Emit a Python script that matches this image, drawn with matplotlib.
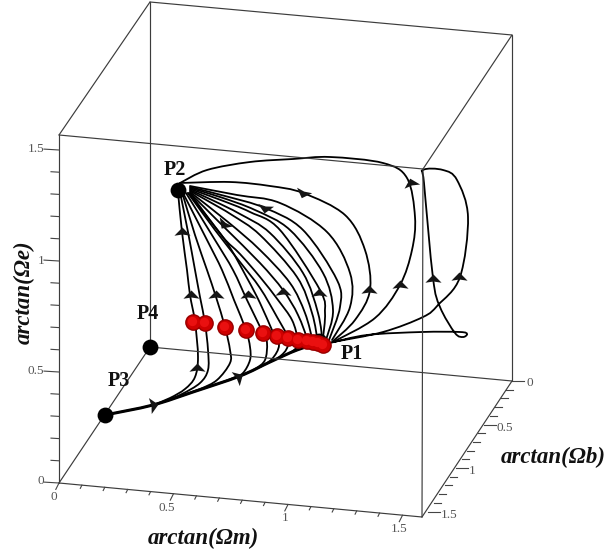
import numpy as np
import matplotlib
matplotlib.use("Agg")
import matplotlib.pyplot as plt
from matplotlib.path import Path
from matplotlib.patches import PathPatch
from matplotlib.markers import MarkerStyle
from matplotlib.transforms import Affine2D

P1 = (319, 341)
P2 = (178, 190)
P3 = (105, 415)
P4 = (150, 347)
fixed_points = [P2, P3, P4, P1]
fixed_names = ["P2", "P3", "P4", "P1"]
fixed_name_pos = [(175, 170), (119, 381), (148, 314), (352, 354)]

red_x = [193, 205, 225, 246, 263, 277, 288, 298, 307, 313, 318, 323]
red_y = [322, 323, 327, 330, 333, 336, 338, 340, 341, 342, 343, 345]

main_line = [(105, 415), (153, 405), (193, 392), (240, 376), (270, 362), (297, 350), (320, 343)]

traj_1 = [(153, 405), (170, 398), (185, 389), (195, 377), (198, 357), (195, 322), (190, 295), (187, 270), (182, 232), (178, 192)]
traj_2 = [(165, 401), (182, 394), (200, 383), (208, 370), (208, 350), (205, 323), (200, 297), (195, 270), (188, 232), (180, 192)]
traj_3 = [(180, 396), (200, 389), (217, 380), (230, 363), (230, 350), (225, 327), (216, 297), (207, 270), (195, 235), (182, 192)]
traj_4 = [(220, 383), (233, 378), (243, 373), (250, 360), (250, 347), (246, 330), (234, 300), (222, 270), (207, 240), (183, 193)]
traj_5 = [(240, 376), (255, 369), (265, 360), (267, 343), (263, 333), (247, 300), (233, 270), (215, 240), (186, 193)]
traj_6 = [(260, 367), (272, 359), (279, 345), (272, 330), (260, 303), (247, 278), (225, 240), (188, 193)]
traj_7 = [(277, 359), (286, 350), (288, 338), (277, 317), (260, 288), (240, 262), (215, 230), (188, 193)]
traj_8 = [(290, 353), (297, 347), (298, 340), (292, 320), (278, 300), (260, 277), (240, 254), (222, 236), (190, 193)]
traj_9 = [(300, 348), (307, 341), (298, 315), (283, 290), (260, 263), (224, 227), (190, 193)]
traj_10 = [(313, 342), (305, 313), (290, 283), (260, 250), (228, 222), (190, 192)]
traj_11 = [(318, 343), (312, 313), (297, 277), (260, 235), (232, 215), (208, 201), (190, 191)]
traj_12 = [(323, 345), (318, 313), (303, 273), (270, 233), (240, 214), (212, 200), (190, 190)]
traj_13 = [(323, 338), (325, 313), (320, 290), (280, 230), (250, 212), (218, 199), (190, 189)]
traj_14 = [(326, 340), (333, 310), (323, 273), (290, 230), (255, 210), (220, 197), (190, 188)]
traj_15 = [(329, 340), (340, 307), (337, 280), (303, 230), (265, 208), (225, 196), (190, 187)]
traj_16 = [(332, 340), (350, 307), (350, 273), (327, 232), (280, 203), (237, 195), (190, 186)]
traj_17 = [(332, 342), (355, 320), (370, 290), (365, 250), (345, 215), (303, 193), (270, 186), (230, 182), (180, 183)]
traj_18 = [(333, 342), (375, 318), (400, 285), (412, 250), (415, 217), (407, 178), (383, 163), (330, 157), (293, 159),
           (250, 162), (207, 170), (180, 183)]
traj_loop = [(333, 342), (383, 332), (423, 317), (438, 305), (460, 277), (468, 217), (457, 180), (443, 170), (423, 170),
             (424, 183), (433, 278), (440, 307), (455, 333), (463, 337), (467, 334), (460, 332), (422, 332), (367, 335), (330, 343)]
trajectories = [main_line, traj_1, traj_2, traj_3, traj_4, traj_5, traj_6, traj_7, traj_8, traj_9, traj_10,
                traj_11, traj_12, traj_13, traj_14, traj_15, traj_16, traj_17, traj_18, traj_loop]

arrow_x = [182, 191, 216, 248, 283, 319, 369, 400, 433, 459, 197, 411, 303, 265, 224, 153, 238]
arrow_y = [232, 295, 295, 295, 292, 293, 290, 285, 279, 277, 368, 183, 193, 208, 224, 405, 377]
arrow_angle = [0, 0, 0, 0, 0, 0, 0, 0, 0, 0, 0, 15, 160, 170, 145, -80, -60]

# box corners
fbl = (59, 483)
fbr = (422, 517)
bbl = (150, 347)
bbr = (512, 381)
ftl = (59, 135)
ftr = (423, 169)
btl = (150, 2)
btr = (512, 35)
box_edges = [(fbl, fbr), (fbl, bbl), (fbr, bbr), (bbl, bbr), (fbl, ftl), (fbr, ftr), (bbl, btl), (bbr, btr),
             (ftl, ftr), (ftl, btl), (ftr, btr), (btl, btr)]

tick_values = np.arange(0, 1.55, 0.1)
tick_labels = ["0", "0.5", "1", "1.5"]
xlabel_pos = [(54, 497), (167, 508), (285, 518), (399, 529)]
zlabel_pos = [(41, 481), (36, 371), (41, 261), (36, 149)]
ylabel_pos = [(530, 383), (505, 428), (472, 471), (449, 515)]


def smooth(pts):
    # catmull-rom control points so the line renders as a curve
    pts = np.array(pts, dtype=float)
    verts = [pts[0]]
    codes = [Path.MOVETO]
    for i in range(len(pts) - 1):
        p0 = pts[max(i - 1, 0)]
        p1 = pts[i]
        p2 = pts[i + 1]
        p3 = pts[min(i + 2, len(pts) - 1)]
        verts += [p1 + (p2 - p0) / 6, p2 - (p3 - p1) / 6, p2]
        codes += [Path.CURVE4] * 3
    return Path(verts, codes)


fig = plt.figure(figsize=(6.08, 5.54), dpi=100)
ax = fig.add_axes([0, 0, 1, 1])
ax.set_xlim(0, 608)
ax.set_ylim(554, 0)
ax.axis("off")

for a, b in box_edges:
    ax.plot([a[0], b[0]], [a[1], b[1]], color="#3c3c3c", lw=0.85, zorder=4, solid_capstyle="round")

# ticks on the three axes
for v in tick_values:
    major = abs(v * 2 - round(v * 2)) < 1e-6
    # vertical axis
    y = 483 - 222 * v
    ln = 15 if major else 8
    ax.plot([59 - ln, 59], [y - 0.06 * ln, y], color="#444444", lw=0.8, zorder=4)
    # front axis
    x0 = 59 + 229 * v
    y0 = 483 + 21.5 * v
    k = 2 if major else 1
    ax.plot([x0, x0 - 1.6 * k], [y0, y0 + 3.2 * k], color="#444444", lw=0.8, zorder=4)
    # side axis
    x1 = 512 - 56 * v
    y1 = 381 + 87 * v
    ln = 12 if major else 7
    ax.plot([x1, x1 + ln], [y1, y1], color="#444444", lw=0.8, zorder=4)

for t, p in zip(tick_labels, xlabel_pos):
    ax.text(p[0], p[1], t, family="Liberation Serif", fontsize=9.5, color="#555555", ha="center", va="center")
for t, p in zip(tick_labels, zlabel_pos):
    ax.text(p[0], p[1], t, family="Liberation Serif", fontsize=9.5, color="#555555", ha="center", va="center")
for t, p in zip(tick_labels, ylabel_pos):
    ax.text(p[0], p[1], t, family="Liberation Serif", fontsize=9.5, color="#555555", ha="center", va="center")

for tr in trajectories:
    ax.add_patch(PathPatch(smooth(tr), fill=False, edgecolor="black", lw=1.3, zorder=3, capstyle="round"))
ax.add_patch(PathPatch(smooth(main_line), fill=False, edgecolor="black", lw=2.2, zorder=3))

arrow_shape = Path([(0, 0.62), (1, -0.4), (0, -0.25), (-1, -0.4), (0, 0.62)],
                   [Path.MOVETO, Path.LINETO, Path.LINETO, Path.LINETO, Path.CLOSEPOLY])
for x, y, ang in zip(arrow_x, arrow_y, arrow_angle):
    m = MarkerStyle(arrow_shape, transform=Affine2D().rotate_deg(ang))
    ax.scatter([x], [y], marker=m, s=135, color="#151515", linewidths=0, zorder=5)

fx = [p[0] for p in fixed_points]
fy = [p[1] for p in fixed_points]
ax.scatter(fx, fy, s=130, color="black", linewidths=0, zorder=6)

# red spheres, dark rim first then lighter centre
rx = np.array(red_x)
ry = np.array(red_y)
ax.scatter(rx, ry, s=145, color="#980000", linewidths=0, zorder=7)
ax.scatter(rx - 0.4, ry - 0.4, s=100, color="#cf0000", linewidths=0, zorder=8)
ax.scatter(rx - 0.8, ry - 0.8, s=45, color="#ea1010", linewidths=0, zorder=9)

for name, p in zip(fixed_names, fixed_name_pos):
    ax.text(p[0], p[1], name, family="Liberation Serif", fontweight="bold", fontsize=14.5,
            color="#111111", ha="center", va="center", zorder=10)

label_style = dict(family="Liberation Serif", fontweight="bold", fontstyle="italic", fontsize=16.5,
                   color="#111111", ha="center", va="center")
ax.text(203, 538, "arctan(Ωm)", **label_style)
ax.text(553, 457, "arctan(Ωb)", **label_style)
ax.text(24, 292, "arctan(Ωe)", rotation=90, **label_style)

fig.savefig("out.png", dpi=100)
